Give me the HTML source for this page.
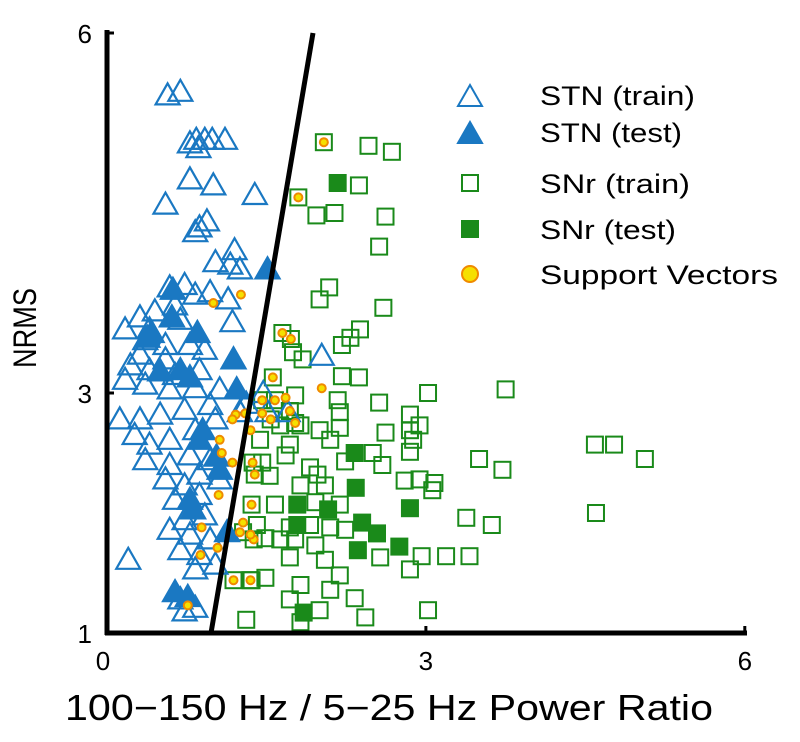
<!DOCTYPE html>
<html><head><meta charset="utf-8"><style>
html,body{margin:0;padding:0;background:#fff;}
svg{display:block;font-family:"Liberation Sans","DejaVu Sans",sans-serif;}
</style></head><body>
<svg id="chart" width="800" height="742" viewBox="0 0 800 742">
<g id="marks"></g>
<line x1="211" y1="633" x2="313" y2="33" stroke="#000" stroke-width="5"/>
<line x1="107" y1="30" x2="107" y2="635" stroke="#000" stroke-width="5"/>
<line x1="105" y1="633" x2="747" y2="633" stroke="#000" stroke-width="5"/>
<g id="ticks"></g>
<text x="36" y="328" font-size="32" text-anchor="middle" textLength="80" lengthAdjust="spacingAndGlyphs" transform="rotate(-90 36 328)">NRMS</text>
<text x="65" y="720" font-size="36" textLength="648" lengthAdjust="spacingAndGlyphs">100−150 Hz / 5−25 Hz Power Ratio</text>
<g id="legend">
<polygon points="458,106 482,106 470,85" fill="#fff" stroke="#1a78c2" stroke-width="2"/>
<text x="540" y="105" font-size="27" textLength="155" lengthAdjust="spacingAndGlyphs">STN (train)</text>
<polygon points="458,143 482,143 470,122" fill="#1a78c2" stroke="#1a78c2" stroke-width="2"/>
<text x="540" y="142" font-size="27" textLength="142" lengthAdjust="spacingAndGlyphs">STN (test)</text>
<rect x="462" y="175" width="16" height="16" fill="none" stroke="#1a8a1a" stroke-width="2"/>
<text x="540" y="193" font-size="27" textLength="150" lengthAdjust="spacingAndGlyphs">SNr (train)</text>
<rect x="462" y="221" width="16" height="16" fill="#1a8a1a" stroke="#1a8a1a" stroke-width="2"/>
<text x="540" y="239" font-size="27" textLength="136" lengthAdjust="spacingAndGlyphs">SNr (test)</text>
<circle cx="470" cy="274" r="8" fill="#f5e000" stroke="#f08a00" stroke-width="2"/>
<text x="540" y="284" font-size="27" textLength="238" lengthAdjust="spacingAndGlyphs">Support Vectors</text>
</g>
</svg>
<script>
const xTicks=[0,3,6];
const yTicks=[1,3,6];
const stnTrainX=[0.57,0.69,0.84,0.92,0.99,1.11,0.78,0.86,0.78,1.00,0.55,1.39,0.87,0.94,0.83,1.20,1.16,1.25,1.02,0.59,0.73,0.83,0.97,1.14,0.64,0.31,0.45,0.17,0.40,0.36,0.55,0.31,0.78,0.92,0.69,1.18,0.22,0.40,0.55,0.64,0.87,0.17,0.36,0.59,0.83,0.12,0.31,0.50,0.73,0.97,0.26,0.40,0.59,0.83,1.02,0.36,0.59,0.78,0.97,0.55,0.73,0.87,1.06,0.64,0.87,0.73,0.92,0.59,0.78,0.97,0.69,0.87,0.83,1.02,0.20,0.69,0.73,0.83,2.02,1.47,1.70,1.51,1.31,1.06,1.25];
const stnTrainY=[5.48,5.51,5.11,5.11,5.11,5.11,5.08,5.04,4.78,4.73,4.57,4.65,4.38,4.43,4.34,4.19,4.07,4.03,4.09,3.88,3.90,3.82,3.84,3.78,3.73,3.63,3.68,3.53,3.53,3.44,3.40,3.32,3.40,3.36,3.61,3.59,3.23,3.19,3.28,3.15,3.19,3.11,3.07,3.03,3.04,2.78,2.78,2.82,2.86,2.90,2.65,2.57,2.61,2.69,2.78,2.44,2.40,2.48,2.44,2.28,2.23,2.32,2.28,2.11,2.15,1.94,1.98,1.86,1.82,1.78,1.69,1.65,1.53,1.57,1.61,1.28,1.18,1.21,3.31,3.00,2.84,2.84,2.91,3.03,2.84];
const stnTestX=[1.51,0.61,0.42,0.85,0.38,1.19,1.22,0.69,0.78,0.50,0.90,1.03,0.81,1.13,0.64,0.76,0.87,1.06,0.78,0.62];
const stnTestY=[4.03,3.63,3.50,3.50,3.46,3.28,3.03,3.19,3.13,3.18,2.69,2.47,2.03,1.84,1.34,1.30,2.61,2.36,2.11,3.86];
const snrTrainX=[2.04,2.46,2.68,2.37,1.80,1.97,2.14,2.62,2.56,2.09,2.00,2.60,1.65,1.73,1.75,1.84,2.21,2.29,2.38,1.56,2.21,2.37,3.02,3.75,1.77,2.17,2.19,2.56,1.63,1.82,2.00,2.19,2.62,2.85,2.88,2.85,4.59,4.77,5.06,3.50,3.72,4.60,3.38,3.62,3.08,3.06,1.44,1.72,2.10,1.68,1.91,2.24,2.50,1.46,1.53,1.82,1.98,2.05,2.59,2.94,1.58,1.96,2.19,2.80,1.41,1.72,1.91,2.10,2.24,1.49,1.63,1.77,1.96,1.72,2.05,2.57,2.96,3.19,3.41,2.85,1.49,1.82,2.10,1.72,2.00,2.33,1.31,1.82,2.43,3.02,1.36,2.19,2.85,2.94,1.46,1.58,1.72,1.54,1.77,1.37,1.39,1.36,1.38,1.28,1.19,1.35];
const snrTrainY=[5.09,5.06,5.01,4.73,4.63,4.48,4.50,4.47,4.22,3.88,3.78,3.71,3.50,3.45,3.34,3.28,3.40,3.46,3.53,3.13,3.14,3.13,3.00,3.03,2.98,2.94,2.84,2.92,2.73,2.73,2.69,2.71,2.67,2.69,2.61,2.51,2.57,2.57,2.45,2.45,2.36,2.00,1.96,1.90,2.25,2.19,2.61,2.57,2.61,2.48,2.38,2.43,2.50,2.42,2.31,2.23,2.32,2.23,2.40,2.28,2.07,2.09,2.07,2.27,1.90,1.88,1.90,1.88,1.86,1.79,1.78,1.78,1.73,1.63,1.61,1.63,1.64,1.64,1.64,1.53,1.46,1.40,1.36,1.28,1.19,1.29,1.11,1.09,1.13,1.19,1.44,1.48,2.82,2.73,2.94,2.94,2.85,2.78,2.75,2.42,2.32,2.07,1.78,1.84,1.44,1.44];
const snrTestX=[2.17,2.33,2.34,1.79,2.08,1.79,2.40,2.54,2.85,2.36,2.75,1.85];
const snrTestY=[4.75,2.50,2.21,2.07,2.03,1.90,1.92,1.83,2.04,1.69,1.72,1.17];
const svX=[2.04,1.80,1.65,1.73,1.56,2.02,1.00,1.26,1.46,1.58,1.68,1.72,1.46,1.54,1.77,1.30,1.21,1.18,1.35,1.06,1.08,1.18,1.37,1.39,1.05,1.36,1.38,1.28,1.25,1.35,0.89,1.04,0.88,1.19,1.35,0.76];
const svY=[5.09,4.63,3.50,3.45,3.13,3.04,3.75,3.82,2.94,2.94,2.96,2.85,2.83,2.78,2.75,2.83,2.82,2.78,2.69,2.61,2.50,2.42,2.42,2.32,2.15,2.07,1.78,1.92,1.84,1.82,1.88,1.71,1.65,1.44,1.44,1.23];

const NS='http://www.w3.org/2000/svg';
function sx(v){return 107+v*106.3;}
function sy(v){return 633-(v-1)*120;}
const BLUE='#1a78c2', GREEN='#1a8a1a';
const g=document.getElementById('marks');
function tri(x,y,fill,name){
  const p=document.createElementNS(NS,'polygon');
  const cx=sx(x), cy=sy(y);
  p.setAttribute('points',(cx-12)+','+(cy+9)+' '+(cx+12)+','+(cy+9)+' '+cx+','+(cy-12));
  p.setAttribute('fill',fill?BLUE:'none');
  p.setAttribute('stroke',BLUE);
  p.setAttribute('stroke-width','2.2');
  
  
  g.appendChild(p);
}
function sq(x,y,fill,name){
  const r=document.createElementNS(NS,'rect');
  r.setAttribute('x',sx(x)-8); r.setAttribute('y',sy(y)-8);
  r.setAttribute('width',16); r.setAttribute('height',16);
  r.setAttribute('fill',fill?GREEN:'none');
  r.setAttribute('stroke',GREEN);
  r.setAttribute('stroke-width','2');
  
  
  g.appendChild(r);
}
snrTrainX.forEach((v,i)=>sq(v,snrTrainY[i],false,'snr-train-point'));
stnTrainX.forEach((v,i)=>tri(v,stnTrainY[i],false,'stn-train-point'));
snrTestX.forEach((v,i)=>sq(v,snrTestY[i],true,'snr-test-point'));
stnTestX.forEach((v,i)=>tri(v,stnTestY[i],true,'stn-test-point'));
svX.forEach((v,i)=>{
  const c=document.createElementNS(NS,'circle');
  c.setAttribute('cx',sx(v)); c.setAttribute('cy',sy(svY[i])); c.setAttribute('r',4);
  c.setAttribute('fill','#f5e000'); c.setAttribute('stroke','#f08a00'); c.setAttribute('stroke-width','2');
  
  
  g.appendChild(c);
});
const tg=document.getElementById('ticks');
xTicks.forEach(v=>{
  const t=document.createElementNS(NS,'text');
  t.setAttribute('x',sx(v)-(v===0?4:0)); t.setAttribute('y',670);
  t.setAttribute('font-size','26'); t.setAttribute('text-anchor','middle');
  t.textContent=v;
  
  
  tg.appendChild(t);
  if(v>0){
    const l=document.createElementNS(NS,'line');
    l.setAttribute('x1',sx(v)); l.setAttribute('x2',sx(v)); l.setAttribute('y1',633); l.setAttribute('y2',626);
    l.setAttribute('stroke','#000'); l.setAttribute('stroke-width','3');
    
    
    tg.appendChild(l);
  }
});
yTicks.forEach(v=>{
  const t=document.createElementNS(NS,'text');
  t.setAttribute('x',92); t.setAttribute('y',sy(v)+10);
  t.setAttribute('font-size','26'); t.setAttribute('text-anchor','end');
  t.textContent=v;
  
  
  tg.appendChild(t);
  const l=document.createElementNS(NS,'line');
  l.setAttribute('x1',107); l.setAttribute('x2',114); l.setAttribute('y1',sy(v)); l.setAttribute('y2',sy(v));
  l.setAttribute('stroke','#000'); l.setAttribute('stroke-width','3');
  
  
  tg.appendChild(l);
});
</script>
</body></html>
